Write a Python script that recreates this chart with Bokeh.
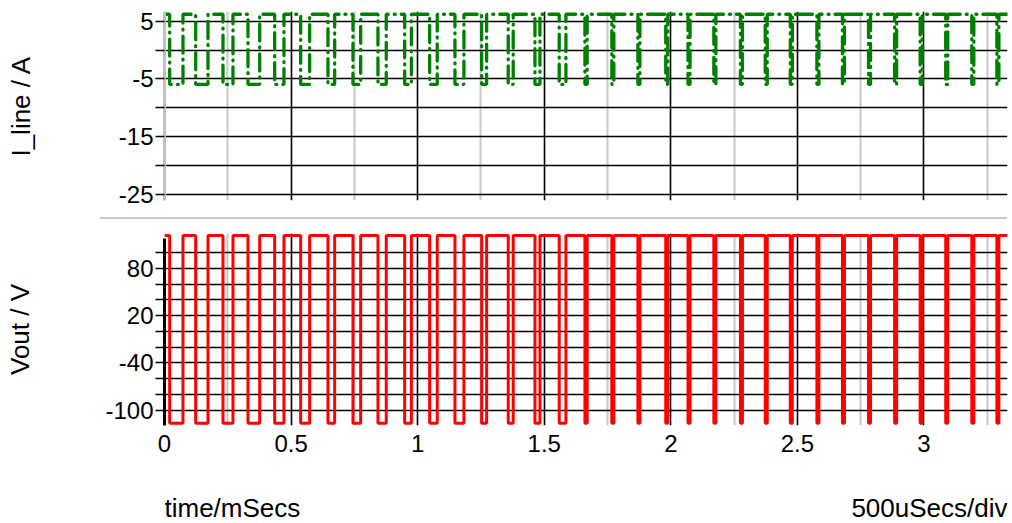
from bokeh.plotting import figure
from bokeh.layouts import column, row
from bokeh.models import (FixedTicker, Grid, LinearAxis, Range1d, ColumnDataSource, Spacer)
from bokeh.embed import file_html
from bokeh.resources import INLINE
from bokeh.core.properties import value

# ---- data (time in mSecs) ----
# instants where the output switches from high to low
fall_times = [0.0205, 0.1232, 0.2310, 0.3298, 0.4352, 0.5379, 0.6457, 0.7445,
              0.8432, 0.9487, 1.0474, 1.1473, 1.2528, 1.3578, 1.4633, 1.5592,
              1.6607, 1.767, 1.870, 1.980, 2.068, 2.170, 2.275, 2.373,
              2.472, 2.577, 2.678, 2.781, 2.884, 2.985, 3.086, 3.189, 3.288]
# instants where it switches back from low to high
rise_times = [0.0730, 0.1718, 0.2705, 0.3760, 0.4719, 0.5734, 0.6722, 0.7749,
              0.8760, 0.9752, 1.0774, 1.1828, 1.2725, 1.3775, 1.4830, 1.5857,
              1.6697, 1.775, 1.878, 1.988, 2.076, 2.178, 2.283, 2.381,
              2.480, 2.585, 2.686, 2.789, 2.892, 2.993, 3.094, 3.197, 3.296]
t_end = 3.33

vout_high = 121.5
vout_low = -116.5
iline_high = 6.2
iline_low = -5.95

x_ticks = [0, 0.5, 1, 1.5, 2, 2.5, 3]
x_tick_labels = ["0", "0.5", "1", "1.5", "2", "2.5", "3"]
x_minor_grid = [0.25, 0.75, 1.25, 1.75, 2.25, 2.75, 3.25]

i_ticks = [-25, -15, -5, 5]
i_tick_labels = ["-25", "-15", "-5", "5"]
i_minor = [-20, -10, 0]
i_grid = [-25, -20, -15, -10, -5, 0, 5]

v_ticks = [-100, -40, 20, 80]
v_tick_labels = ["-100", "-40", "20", "80"]
v_minor = [-80, -60, -20, 0, 40, 60, 100]
v_grid = [-100, -80, -60, -40, -20, 0, 20, 40, 60, 80, 100]

x_axis_title = "time/mSecs"
x_scale_note = "500uSecs/div"


def step_trace(hi, lo):
    xs, ys = [0.0], [hi]
    for f, r in zip(fall_times, rise_times):
        xs += [f, f, r, r]
        ys += [hi, lo, lo, hi]
    xs.append(t_end)
    ys.append(hi)
    return ColumnDataSource(data=dict(t=xs, y=ys))


FONT = "Liberation Sans"
W = 1012
LEFT = 164
RIGHT = 5


def bare_figure(height, width=W, **kw):
    return figure(width=width, height=height, x_axis_location=None, y_axis_location=None,
                  toolbar_location=None, output_backend="svg", outline_line_color=None,
                  title=None, background_fill_color="white", border_fill_color="white",
                  **kw)


def add_grids(p, y_grid_ticks):
    p.center = []
    p.add_layout(Grid(dimension=0, ticker=FixedTicker(ticks=x_minor_grid),
                      grid_line_color="#c8c8c8", grid_line_width=2))
    p.add_layout(Grid(dimension=0, ticker=FixedTicker(ticks=x_ticks[1:]),
                      grid_line_color="black", grid_line_width=1.6))
    p.add_layout(Grid(dimension=1, ticker=FixedTicker(ticks=y_grid_ticks),
                      grid_line_color="black", grid_line_width=1.6))


def style_yaxis(ax, label, standoff):
    ax.axis_label = label
    ax.axis_label_text_font = FONT
    ax.axis_label_text_font_size = "26px"
    ax.axis_label_text_font_style = "normal"
    ax.axis_label_text_color = "black"
    ax.axis_label_standoff = standoff
    ax.major_label_text_font = FONT
    ax.major_label_text_font_size = "24px"
    ax.major_label_text_color = "black"
    ax.major_label_standoff = 2
    ax.major_tick_out = 9
    ax.major_tick_in = 0
    ax.minor_tick_out = 9
    ax.minor_tick_in = 0
    ax.major_tick_line_color = "black"
    ax.minor_tick_line_color = "black"
    ax.major_tick_line_width = 1.6
    ax.minor_tick_line_width = 1.6


xr = Range1d(0, t_end)

# ---- top plot: I_line ----
top = bare_figure(217, x_range=xr, y_range=Range1d(-26.04, 6.68),
                  min_border_left=LEFT, min_border_right=RIGHT,
                  min_border_top=11, min_border_bottom=17)
add_grids(top, i_grid)
ax1 = LinearAxis(ticker=FixedTicker(ticks=i_ticks, minor_ticks=i_minor),
                 major_label_overrides={v: s for v, s in zip(i_ticks, i_tick_labels)})
style_yaxis(ax1, "I_line / A", 80)
ax1.axis_line_color = "#c0c0c0"
ax1.axis_line_width = 3
top.add_layout(ax1, "left")
top.line("t", "y", source=step_trace(iline_high, iline_low), line_color="#008000",
         line_width=3.3, line_dash="17 6 1 6", line_cap="round")

# ---- separator between the graphs ----
sep_row = row(Spacer(width=100, height=2),
              Spacer(width=W - 100 - RIGHT, height=2,
                     styles={"background-color": "#c8c8c8"}),
              spacing=0)

# ---- bottom plot: Vout ----
bot = bare_figure(251, x_range=xr, y_range=Range1d(-119.4, 124.1),
                  min_border_left=LEFT, min_border_right=RIGHT,
                  min_border_top=14, min_border_bottom=45)
add_grids(bot, v_grid)
ax2 = LinearAxis(ticker=FixedTicker(ticks=v_ticks, minor_ticks=v_minor),
                 major_label_overrides={v: s for v, s in zip(v_ticks, v_tick_labels)},
                 bounds=(-119.4, 117.8))
style_yaxis(ax2, "Vout / V", 67)
ax2.axis_line_color = "black"
ax2.axis_line_width = 3
bot.add_layout(ax2, "left")

axx = LinearAxis(ticker=FixedTicker(ticks=x_ticks),
                 major_label_overrides={v: s for v, s in zip(x_ticks, x_tick_labels)})
axx.axis_line_color = None
axx.major_tick_line_color = None
axx.minor_tick_line_color = None
axx.major_label_text_font = FONT
axx.major_label_text_font_size = "24px"
axx.major_label_text_color = "black"
axx.major_label_standoff = 3
bot.add_layout(axx, "below")

bot.line("t", "y", source=step_trace(vout_high, vout_low), line_color="#ff0000",
         line_width=3)

# ---- footer with the axis caption ----
foot = bare_figure(53, x_range=xr, y_range=Range1d(0, 53),
                   min_border=0, min_border_left=LEFT, min_border_right=RIGHT,
                   min_border_top=0, min_border_bottom=0)
foot.center = []
foot.text(x=[0], y=[16], text=[x_axis_title], text_font=value(FONT),
          text_font_size="26px", text_align="left", text_baseline="middle",
          text_color="black")
foot.text(x=[t_end], y=[16], text=[x_scale_note], text_font=value(FONT),
          text_font_size="26px", text_align="right", text_baseline="middle",
          text_color="black")

layout = column(top, sep_row, bot, foot, spacing=0)
open("out.html", "w").write(file_html(layout, INLINE))
